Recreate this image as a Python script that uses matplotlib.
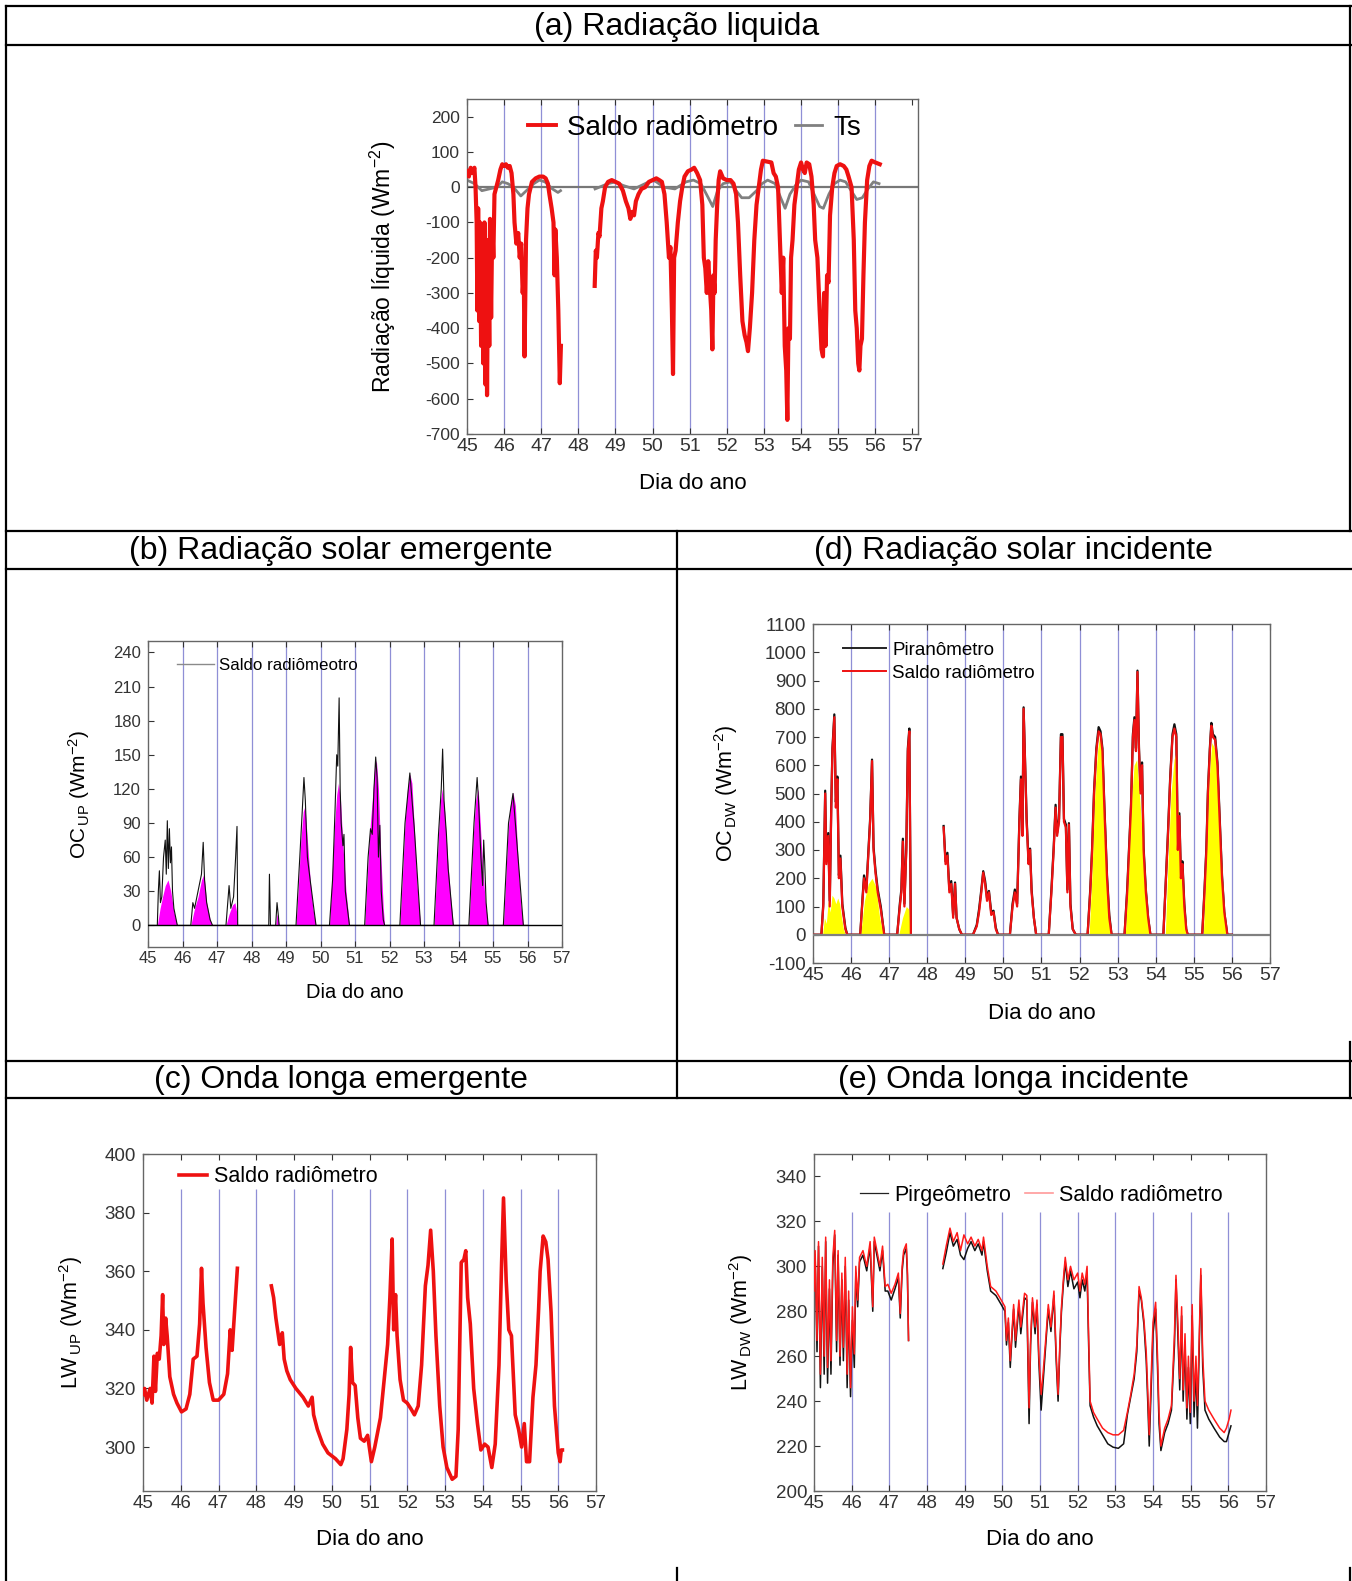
import numpy as np
import matplotlib
matplotlib.use("Agg")
import matplotlib.pyplot as plt
from matplotlib.lines import Line2D

plt.rcParams['font.family'] = ['Liberation Sans', 'DejaVu Sans']
plt.rcParams['mathtext.fontset'] = 'custom'
plt.rcParams['mathtext.rm'] = 'Liberation Sans'
plt.rcParams['mathtext.it'] = 'Liberation Sans'
plt.rcParams['axes.unicode_minus'] = False
nan = np.nan

# (a) Radiação liquida
a_days = [45.00, 45.05, 45.10, 45.15, 45.20, 45.23, 45.26, 45.28, 45.30, 45.33, 45.35, 45.38, 45.41, 45.44,
          45.47, 45.50, 45.52, 45.54, 45.57, 45.60, 45.62, 45.65, 45.68, 45.71, 45.74, 45.79, 45.84, 45.90,
          45.95, 46.00, 46.05, 46.10, 46.15, 46.20, 46.25, 46.28, 46.33, 46.38, 46.42, 46.46, 46.50, 46.53,
          46.55, 46.59, 46.63, 46.67, 46.75, 46.85, 46.95, 47.05, 47.12, 47.18, 47.22, 47.28, 47.33, 47.36,
          47.38, 47.42, 47.46, 47.50, 47.53, 47.54,
          48.44, 48.47, 48.50, 48.54, 48.57, 48.62, 48.66, 48.72, 48.80, 48.90, 49.00, 49.10, 49.20, 49.28,
          49.35, 49.40, 49.45, 49.50, 49.55, 49.62, 49.70, 49.80, 49.90, 50.00, 50.10, 50.18, 50.25, 50.32,
          50.38, 50.44, 50.48, 50.52, 50.55, 50.58, 50.62, 50.68, 50.74, 50.80, 50.86, 50.95, 51.05, 51.12,
          51.20, 51.28, 51.34, 51.38, 51.42, 51.46, 51.50, 51.54, 51.58, 51.61, 51.64, 51.67, 51.70, 51.74,
          51.78, 51.82, 51.90, 52.00, 52.10, 52.18, 52.25, 52.30, 52.36, 52.42, 52.48, 52.53, 52.57, 52.62,
          52.68, 52.74, 52.80, 52.86, 52.92, 52.97, 53.10, 53.20, 53.26, 53.32, 53.38, 53.43, 53.48, 53.52,
          53.56, 53.60, 53.63, 53.66, 53.70, 53.73, 53.77, 53.82, 53.88, 53.94, 54.00, 54.05, 54.10, 54.15,
          54.22, 54.28, 54.34, 54.38, 54.44, 54.50, 54.55, 54.59, 54.62, 54.66, 54.70, 54.74, 54.78, 54.84,
          54.90, 54.96, 55.05, 55.15, 55.22, 55.28, 55.36, 55.42, 55.46, 55.50, 55.54, 55.57, 55.60, 55.64,
          55.68, 55.72, 55.78, 55.84, 55.90, 56.00, 56.12]
a_saldo = [45, 30, 55, 40, 55, 0, -100, -350, -60, -380, -100, -450, -150, -500,
           -100, -560, -200, -590, -150, -450, -90, -370, -100, -200, -20, 0, 20, 50,
           65, 60, 65, 55, 60, 40, -20, -100, -160, -130, -200, -160, -300, -250,
           -480, -150, -60, -20, 15, 25, 30, 30, 25, 10, -20, -60, -100, -250,
           -120, -200, -350, -556, -450, nan,
           -280, -180, -200, -130, -140, -60, -40, 0, 15, 20, 15, 10, -10, -40,
           -60, -90, -70, -80, -40, -20, -5, 0, 15, 20, 25, 20, 15, -20,
           -100, -200, -170, -350, -530, -200, -180, -100, -40, 0, 30, 45, 50, 55,
           40, 20, -50, -200, -230, -300, -210, -280, -350, -460, -250, -300, -150, -50,
           20, 45, 25, 20, 20, 10, -20, -100, -250, -380, -420, -440, -465, -400,
           -300, -150, -50, 0, 50, 75, 72, 70, 40, 30, 0, -150, -300, -200,
           -450, -520, -660, -400, -430, -200, -150, -50, 0, 50, 70, 50, 40, 70,
           65, 30, -50, -150, -200, -350, -460, -480, -300, -450, -250, -270, -80, 0,
           40, 60, 65, 60, 50, 30, 0, -150, -350, -400, -500, -520, -450, -430,
           -250, -100, 20, 60, 75, 70, 65]
a_ts_days = [45.00, 45.20, 45.40, 45.60, 45.80, 45.95, 46.10, 46.25, 46.45, 46.60, 46.80, 46.95, 47.10,
             47.30, 47.45, 47.52, 47.53,
             48.45, 48.80, 49.00, 49.20, 49.50, 49.80, 50.00, 50.10, 50.30, 50.60, 50.90, 51.10, 51.30,
             51.50, 51.62, 51.75, 51.90, 52.10, 52.25, 52.40, 52.60, 52.80, 52.95, 53.10, 53.30, 53.45,
             53.57, 53.70, 53.85, 54.00, 54.20, 54.35, 54.50, 54.60, 54.75, 54.90, 55.05, 55.20, 55.35,
             55.50, 55.65, 55.80, 55.95, 56.10]
a_ts = [20, 10, -10, -5, 0, 15, 10, 0, -25, -10, 10, 20, 15,
        -5, -15, -10, nan,
        -5, 10, 15, 5, -5, 10, 20, 15, 0, -5, 15, 20, 10,
        -30, -55, -10, 10, 15, -10, -30, -30, -10, 10, 20, 10, -30,
        -60, -20, 5, 20, 15, -20, -55, -60, -20, 10, 20, 15, -10,
        -35, -30, -5, 15, 10]

# (b) Radiação solar emergente
b_fill_days = [45.00, 45.27, 45.35, 45.42, 45.50, 45.58, 45.66, 45.75, 45.85,
               46.24, 46.35, 46.45, 46.55, 46.62, 46.70, 46.80, 46.87,
               47.26, 47.35, 47.45, 47.52, 47.58, 47.60,
               48.70, 48.74, 48.78, 48.80,
               49.29, 49.36, 49.43, 49.50, 49.55, 49.62, 49.70, 49.78, 49.87,
               50.26, 50.33, 50.40, 50.47, 50.52, 50.58, 50.65, 50.74, 50.84,
               51.28, 51.35, 51.42, 51.50, 51.57, 51.62, 51.68, 51.75, 51.82, 51.86,
               52.30, 52.37, 52.45, 52.52, 52.59, 52.65, 52.72, 52.80, 52.90,
               53.29, 53.35, 53.42, 53.48, 53.53, 53.60, 53.68, 53.77, 53.85,
               54.30, 54.36, 54.43, 54.50, 54.57, 54.63, 54.70, 54.78, 54.86,
               55.30, 55.36, 55.43, 55.50, 55.58, 55.65, 55.72, 55.80, 55.88, 56.00]
b_fill = [0, 0, 15, 25, 35, 40, 30, 12, 0,
          0, 15, 25, 40, 45, 20, 5, 0,
          0, 10, 18, 20, 10, 0,
          0, 10, 5, 0,
          0, 35, 75, 100, 105, 75, 40, 15, 0,
          0, 40, 85, 115, 125, 110, 70, 30, 0,
          0, 40, 80, 110, 140, 145, 120, 60, 15, 0,
          0, 40, 90, 120, 133, 125, 85, 35, 0,
          0, 35, 80, 110, 120, 100, 60, 25, 0,
          0, 35, 80, 110, 120, 90, 50, 20, 0,
          0, 35, 80, 105, 117, 105, 60, 20, 0, 0]
b_line_days = [45.00, 45.27, 45.30, 45.33, 45.36, 45.40, 45.45, 45.50, 45.53, 45.56, 45.59, 45.62, 45.65,
               45.68, 45.71, 45.75, 45.85,
               46.24, 46.30, 46.35, 46.45, 46.55, 46.60, 46.64, 46.70, 46.80, 46.87,
               47.26, 47.35, 47.40, 47.48, 47.54, 47.58, 47.60,
               48.50, 48.52, 48.55, 48.70, 48.74, 48.78, 48.80,
               49.29, 49.40, 49.47, 49.52, 49.56, 49.62, 49.70, 49.87,
               50.26, 50.35, 50.42, 50.47, 50.50, 50.54, 50.57, 50.60, 50.65, 50.68, 50.72, 50.84,
               51.28, 51.38, 51.45, 51.50, 51.55, 51.60, 51.64, 51.68, 51.72, 51.76, 51.82, 51.86,
               52.30, 52.45, 52.59, 52.72, 52.90,
               53.29, 53.42, 53.50, 53.54, 53.58, 53.65, 53.70, 53.85,
               54.30, 54.45, 54.54, 54.58, 54.65, 54.70, 54.73, 54.76, 54.80, 54.86,
               55.30, 55.45, 55.58, 55.70, 55.88, 56.00]
b_line = [0, 0, 30, 48, 20, 25, 60, 75, 45, 92, 50, 85, 55,
          69, 30, 15, 0,
          0, 20, 15, 30, 45, 73, 40, 20, 5, 0,
          0, 35, 15, 25, 60, 87, 0,
          0, 45, 0, 0, 20, 8, 0,
          0, 60, 100, 130, 110, 60, 40, 0,
          0, 40, 100, 150, 140, 200, 120, 90, 70, 80, 30, 0,
          0, 60, 85, 80, 120, 148, 130, 60, 88, 30, 5, 0,
          0, 90, 134, 85, 0,
          0, 80, 120, 155, 110, 80, 50, 0,
          0, 90, 130, 110, 60, 35, 75, 55, 20, 0,
          0, 90, 116, 70, 0, 0]

# (d) Radiação solar incidente
d_days = [45.00, 45.22, 45.27, 45.32, 45.35, 45.40, 45.44, 45.48, 45.51, 45.56, 45.60, 45.64, 45.68,
          45.72, 45.77, 45.85, 45.90,
          46.24, 46.30, 46.34, 46.40, 46.46, 46.50, 46.55, 46.59, 46.64, 46.70, 46.78, 46.87,
          47.21, 47.28, 47.32, 47.36, 47.40, 47.45, 47.49, 47.53, 47.57, 47.58,
          48.43, 48.48, 48.53, 48.58, 48.63, 48.68, 48.73, 48.77, 48.84, 48.91,
          49.20, 49.30, 49.36, 49.42, 49.47, 49.52, 49.57, 49.62, 49.68, 49.74, 49.80, 49.86,
          50.17, 50.24, 50.30, 50.36, 50.42, 50.46, 50.50, 50.53, 50.57, 50.61, 50.66, 50.70, 50.74,
          50.80, 50.86,
          51.19, 51.26, 51.32, 51.37, 51.41, 51.46, 51.51, 51.55, 51.59, 51.64, 51.68, 51.72, 51.76,
          51.82, 51.90,
          52.21, 52.28, 52.33, 52.38, 52.44, 52.50, 52.55, 52.60, 52.65, 52.72, 52.78, 52.84,
          53.18, 53.25, 53.30, 53.35, 53.40, 53.44, 53.48, 53.52, 53.56, 53.60, 53.64, 53.68, 53.74,
          53.80, 53.86,
          54.20, 54.27, 54.32, 54.38, 54.44, 54.49, 54.54, 54.58, 54.62, 54.66, 54.70, 54.75, 54.80,
          54.84,
          55.22, 55.28, 55.33, 55.37, 55.42, 55.46, 55.50, 55.56, 55.62, 55.68, 55.74, 55.80, 55.88,
          56.00]
d_saldo = [0, 0, 100, 500, 250, 350, 100, 450, 650, 770, 450, 550, 200,
           270, 100, 20, 0,
           0, 120, 200, 150, 300, 400, 615, 300, 220, 150, 90, 0,
           0, 100, 150, 330, 100, 300, 650, 720, 0, nan,
           380, 250, 280, 150, 180, 60, 180, 60, 20, 0,
           0, 30, 80, 150, 220, 180, 120, 150, 70, 80, 20, 0,
           0, 100, 150, 100, 400, 550, 350, 800, 600, 400, 250, 300, 150,
           60, 0,
           0, 150, 300, 450, 350, 400, 700, 700, 400, 380, 150, 390, 100,
           20, 0,
           0, 150, 300, 500, 650, 720, 710, 650, 450, 200, 60, 0,
           0, 150, 300, 450, 700, 760, 650, 930, 650, 500, 600, 300, 150,
           60, 0,
           0, 200, 350, 550, 700, 730, 700, 300, 420, 200, 250, 100, 20,
           0,
           0, 150, 300, 500, 650, 740, 700, 690, 600, 400, 200, 80, 0,
           0]
d_piran = [0, 0, 110, 510, 260, 360, 120, 460, 660, 780, 470, 560, 210,
           280, 110, 25, 0,
           0, 130, 210, 160, 310, 410, 620, 310, 230, 160, 100, 0,
           0, 110, 160, 340, 110, 310, 660, 730, 0, nan,
           385, 260, 290, 160, 190, 70, 185, 60, 20, 0,
           0, 35, 90, 160, 225, 190, 130, 155, 80, 85, 25, 0,
           0, 110, 160, 110, 410, 560, 360, 805, 610, 410, 260, 305, 160,
           60, 0,
           0, 160, 310, 460, 360, 410, 710, 710, 410, 390, 160, 395, 110,
           20, 0,
           0, 160, 310, 510, 660, 735, 720, 660, 460, 210, 70, 0,
           0, 160, 310, 460, 710, 770, 660, 935, 660, 510, 610, 310, 160,
           60, 0,
           0, 210, 360, 560, 710, 745, 710, 310, 430, 210, 260, 110, 20,
           0,
           0, 160, 310, 510, 660, 750, 710, 700, 610, 410, 210, 80, 0,
           0]
d_fill_days = [45.00, 45.25, 45.30, 45.35, 45.40, 45.45, 45.50, 45.55, 45.60, 45.65, 45.70, 45.75, 45.80, 45.85,
               46.25, 46.35, 46.45, 46.55, 46.65, 46.75, 46.85,
               47.25, 47.35, 47.45, 47.52, 47.55,
               52.25, 52.32, 52.40, 52.47, 52.52, 52.58, 52.64, 52.70, 52.76, 52.82,
               53.20, 53.28, 53.35, 53.43, 53.50, 53.57, 53.65, 53.72, 53.80, 53.85,
               54.25, 54.32, 54.40, 54.48, 54.52, 54.58, 54.65, 54.72, 54.80, 54.83,
               55.25, 55.32, 55.40, 55.47, 55.55, 55.62, 55.70, 55.78, 55.86, 56.00]
d_fill = [0, 0, 60, 40, 120, 80, 140, 130, 110, 130, 110, 60, 20, 0,
          0, 120, 180, 200, 170, 60, 0,
          0, 60, 100, 90, 0,
          0, 200, 500, 650, 700, 660, 450, 250, 80, 0,
          0, 200, 450, 600, 620, 500, 350, 200, 60, 0,
          0, 250, 500, 620, 640, 450, 250, 120, 30, 0,
          0, 250, 550, 680, 660, 550, 320, 120, 0, 0]

# (c) Onda longa emergente
c_days = [45.00, 45.04, 45.10, 45.19, 45.24, 45.29, 45.33, 45.38, 45.43, 45.48, 45.52, 45.55, 45.60,
          45.64, 45.71, 45.81, 45.90, 46.02, 46.14, 46.24, 46.33, 46.43, 46.50, 46.55, 46.59, 46.67,
          46.76, 46.86, 47.00, 47.14, 47.24, 47.31, 47.36, 47.43, 47.50, 47.51,
          48.40, 48.46, 48.52, 48.62, 48.69, 48.74, 48.81, 48.90, 49.05, 49.24, 49.38, 49.48, 49.52,
          49.62, 49.76, 49.90, 50.10, 50.24, 50.30, 50.40, 50.46, 50.50, 50.55, 50.62, 50.69, 50.76,
          50.86, 50.95, 51.05, 51.14, 51.29, 51.38, 51.48, 51.54, 51.60, 51.64, 51.69, 51.73, 51.81,
          51.90, 52.00, 52.10, 52.19, 52.29, 52.38, 52.48, 52.55, 52.62, 52.69, 52.76, 52.86, 52.95,
          53.05, 53.19, 53.29, 53.35, 53.43, 53.50, 53.55, 53.60, 53.67, 53.76, 53.86, 53.95, 54.05,
          54.14, 54.24, 54.33, 54.43, 54.50, 54.55, 54.62, 54.69, 54.76, 54.86, 54.95, 55.03, 55.10,
          55.16, 55.24, 55.33, 55.41, 55.48, 55.52, 55.60, 55.67, 55.73, 55.81, 55.90, 56.00, 56.05,
          56.08, 56.11]
c_saldo = [318, 320, 316, 320, 315, 331, 319, 332, 330, 338, 352, 335, 344,
           338, 324, 318, 315, 312, 313, 318, 330, 331, 342, 361, 349, 334,
           322, 316, 316, 318, 325, 340, 333, 347, 361, nan,
           355, 351, 344, 335, 339, 330, 326, 323, 320, 317, 314, 317, 311,
           306, 301, 298, 296, 294, 296, 306, 318, 334, 322, 321, 310, 303,
           302, 304, 295, 300, 310, 322, 335, 351, 371, 340, 352, 338, 323,
           316, 315, 313, 311, 314, 328, 355, 362, 374, 360, 338, 314, 300,
           293, 289, 290, 306, 363, 364, 367, 351, 342, 320, 308, 299, 301,
           300, 293, 301, 328, 363, 385, 357, 340, 338, 311, 306, 300, 308,
           295, 295, 317, 328, 347, 360, 372, 370, 364, 346, 314, 298, 295,
           299, 299]

# (e) Onda longa incidente
e_days = [45.00, 45.03, 45.08, 45.12, 45.17, 45.22, 45.27, 45.31, 45.36, 45.41, 45.45, 45.50, 45.55,
          45.60, 45.64, 45.69, 45.74, 45.78, 45.83, 45.88, 45.92, 45.97, 46.02, 46.07, 46.11, 46.16,
          46.21, 46.30, 46.40, 46.49, 46.56, 46.60, 46.68, 46.75, 46.82, 46.89, 46.96, 47.05, 47.15,
          47.24, 47.29, 47.34, 47.38, 47.45, 47.48, 47.51, 47.52,
          48.42, 48.51, 48.61, 48.70, 48.80, 48.89, 48.98, 49.08, 49.17, 49.27, 49.36, 49.46, 49.50,
          49.60, 49.69, 49.83, 49.97, 50.07, 50.11, 50.16, 50.21, 50.26, 50.30, 50.35, 50.44, 50.49,
          50.59, 50.65, 50.71, 50.75, 50.80, 50.87, 50.92, 50.97, 51.03, 51.08, 51.15, 51.22, 51.29,
          51.37, 51.43, 51.48, 51.53, 51.57, 51.62, 51.67, 51.74, 51.81, 51.90, 52.00, 52.06, 52.12,
          52.19, 52.25, 52.29, 52.33, 52.42, 52.52, 52.66, 52.80, 52.94, 53.08, 53.22, 53.32, 53.41,
          53.50, 53.57, 53.63, 53.69, 53.76, 53.82, 53.86, 53.90, 53.95, 54.00, 54.07, 54.12, 54.16,
          54.21, 54.31, 54.40, 54.49, 54.57, 54.61, 54.66, 54.71, 54.76, 54.80, 54.85, 54.90, 54.94,
          54.99, 55.04, 55.09, 55.14, 55.18, 55.23, 55.27, 55.32, 55.38, 55.48, 55.62, 55.77, 55.89,
          55.95, 56.02, 56.07]
e_saldo = [289, 307, 267, 311, 252, 304, 260, 313, 255, 294, 258, 304, 316,
           267, 307, 260, 297, 264, 304, 252, 289, 246, 282, 261, 300, 285,
           304, 307, 300, 311, 282, 313, 306, 300, 309, 291, 292, 288, 292,
           297, 279, 300, 307, 310, 298, 267, nan,
           301, 309, 317, 311, 315, 307, 314, 310, 313, 309, 312, 307, 313,
           300, 291, 289, 285, 282, 267, 277, 258, 272, 283, 267, 285, 273,
           288, 287, 237, 267, 286, 273, 285, 260, 243, 252, 267, 283, 273,
           289, 261, 243, 267, 282, 294, 304, 294, 300, 294, 297, 289, 297,
           292, 300, 270, 240, 235, 232, 228, 226, 225, 225, 227, 235, 243,
           252, 265, 291, 286, 276, 262, 245, 225, 250, 275, 284, 260, 235,
           220, 228, 232, 238, 270, 296, 275, 250, 282, 245, 270, 237, 260,
           235, 283, 240, 260, 238, 270, 299, 260, 240, 236, 232, 228, 226,
           228, 232, 236]
e_pirg = [286, 305, 262, 309, 246, 300, 252, 311, 248, 290, 252, 300, 314,
          262, 305, 256, 294, 258, 300, 246, 285, 242, 276, 255, 297, 282,
          302, 305, 298, 309, 280, 311, 304, 298, 307, 289, 289, 285, 290,
          295, 277, 298, 305, 308, 296, 267, nan,
          299, 306, 315, 309, 312, 305, 303, 308, 311, 307, 310, 305, 311,
          298, 289, 287, 283, 280, 265, 275, 255, 270, 281, 264, 283, 270,
          286, 285, 230, 265, 284, 270, 283, 257, 236, 248, 265, 281, 271,
          287, 258, 240, 265, 280, 292, 302, 291, 298, 290, 293, 286, 294,
          289, 297, 266, 238, 233, 229, 225, 221, 219.5, 219, 221, 234, 242,
          250, 262, 289, 285, 274, 258, 240, 220, 245, 270, 281, 255, 230,
          218, 226, 230, 236, 265, 294, 270, 245, 278, 240, 265, 232, 255,
          230, 278, 233, 255, 228, 265, 296, 255, 236, 232, 228, 224, 222,
          222, 226, 229]

grid_days = [46, 47, 48, 49, 50, 51, 52, 53, 54, 55, 56]
day_ticks = list(range(45, 58))

W, H = 1352, 1581
fig = plt.figure(figsize=(W / 100, H / 100), dpi=100)


def place(l, r, t, b):
    return fig.add_axes([l / W, 1 - b / H, (r - l) / W, (b - t) / H])


def hline(y, x0, x1):
    fig.add_artist(Line2D([x0 / W, x1 / W], [1 - y / H, 1 - y / H], color='black', lw=1.6,
                          transform=fig.transFigure))


def vline(x, y0, y1):
    fig.add_artist(Line2D([x / W, x / W], [1 - y0 / H, 1 - y1 / H], color='black', lw=1.6,
                          transform=fig.transFigure))


def style(ax, xfs, yfs, gtop, ylab, ylfs, ylx, xlfs, xly):
    ax.vlines(grid_days, ax.get_ylim()[0], gtop, color='#8f8fd6', lw=0.9, zorder=0)
    ax.set_xticks(day_ticks)
    ax.tick_params(axis='x', direction='in', length=4, labelsize=xfs, pad=3, top=True, colors='#333333')
    ax.tick_params(axis='y', direction='in', length=4, labelsize=yfs, pad=5, colors='#333333')
    for s in ax.spines.values():
        s.set_color('#666666')
        s.set_linewidth(1.0)
    ax.set_ylabel(ylab, fontsize=ylfs, va='center')
    ax.yaxis.set_label_coords(ylx, 0.5)
    ax.set_xlabel('Dia do ano', fontsize=xlfs, va='center')
    ax.xaxis.set_label_coords(0.5, xly)


# table lines
hline(6, 6, 1351)
hline(45, 6, 1351)
hline(531, 6, 1351)
hline(569, 6, 1351)
hline(1061, 6, 1351)
hline(1098, 6, 1351)
vline(6, 6, 1581)
vline(1350, 6, 531)
vline(1350, 1042, 1098)
vline(1350, 1568, 1581)
vline(676.5, 531, 1098)
vline(676.5, 1568, 1581)

hfs = 23
fig.text(677 / W, 1 - 27 / H, '(a) Radiação liquida', ha='center', va='center', fontsize=hfs)
fig.text(341 / W, 1 - 551 / H, '(b) Radiação solar emergente', ha='center', va='center', fontsize=hfs)
fig.text(1013 / W, 1 - 551 / H, '(d) Radiação solar incidente', ha='center', va='center', fontsize=hfs)
fig.text(341 / W, 1 - 1080 / H, '(c) Onda longa emergente', ha='center', va='center', fontsize=hfs)
fig.text(1013 / W, 1 - 1080 / H, '(e) Onda longa incidente', ha='center', va='center', fontsize=hfs)

# (a)
ax = place(467, 918, 99, 434)
ax.set_xlim(45, 57.15)
ax.set_ylim(-700, 250)
ax.axhline(0, color='#777777', lw=1.6, zorder=1)
ax.plot(a_ts_days, a_ts, color='#808080', lw=2.0, zorder=2)
ax.plot(a_days, a_saldo, color='#ee1111', lw=3.0, zorder=3)
ax.set_yticks(range(-700, 201, 100))
style(ax, 14, 12.5, 245, 'Radiação líquida (Wm$^{-2}$)', 16.5, -0.186, 16, -0.149)
ax.legend([Line2D([], [], color='#ee1111', lw=2.8), Line2D([], [], color='#808080', lw=2.0)],
          ['Saldo radiômetro', 'Ts'], loc='upper center', bbox_to_anchor=(0.505, 0.985), ncol=2,
          frameon=False, fontsize=20, handlelength=1.0, handletextpad=0.4, columnspacing=0.6,
          borderaxespad=0)

# (b)
ax = place(148, 562, 641, 947)
ax.set_xlim(45, 57)
ax.set_ylim(-19, 250)
ax.fill_between(b_fill_days, 0, b_fill, color='#ff00ff', lw=0, zorder=2)
ax.plot(b_line_days, b_line, color='#111111', lw=0.8, zorder=3)
ax.axhline(0, color='black', lw=1.0, zorder=4)
ax.set_yticks(range(0, 241, 30))
style(ax, 12, 12, 250, 'OC$_{\\,\\mathrm{UP}}$ (Wm$^{-2}$)', 15, -0.167, 14.5, -0.150)
ax.legend([Line2D([], [], color='#8a8a8a', lw=1.0)], ['Saldo radiômeotro'], loc='center left',
          bbox_to_anchor=(0.053, 0.92), frameon=False, fontsize=12.2, handlelength=2.2,
          handletextpad=0.3, borderaxespad=0)

# (d)
ax = place(813, 1270, 624, 963)
ax.set_xlim(45, 57)
ax.set_ylim(-100, 1100)
ax.fill_between(d_fill_days, 0, d_fill, color='#ffff00', lw=0, zorder=3)
ax.plot(d_days, d_piran, color='#111111', lw=1.6, zorder=2)
ax.plot(d_days, d_saldo, color='#ee1111', lw=1.6, zorder=4)
ax.axhline(0, color='#808080', lw=1.6, zorder=5)
ax.set_yticks(range(-100, 1101, 100))
style(ax, 14, 13.5, 1100, 'OC$_{\\,\\mathrm{DW}}$ (Wm$^{-2}$)', 15.5, -0.19, 16, -0.1475)
ax.legend([Line2D([], [], color='#222222', lw=1.4), Line2D([], [], color='#ee1111', lw=1.4)],
          ['Piranômetro', 'Saldo radiômetro'], loc='center left', bbox_to_anchor=(0.05, 0.889),
          frameon=False, fontsize=13.5, handlelength=2.3, handletextpad=0.3, labelspacing=0.3,
          borderaxespad=0)

# (c)
ax = place(143, 596, 1154, 1491)
ax.set_xlim(45, 57)
ax.set_ylim(285, 400)
ax.plot(c_days, c_saldo, color='#ee1111', lw=2.6, zorder=3)
ax.set_yticks(range(300, 401, 20))
style(ax, 13.5, 13.5, 388, 'LW$_{\\,\\mathrm{UP}}$ (Wm$^{-2}$)', 15.5, -0.159, 16, -0.145)
ax.legend([Line2D([], [], color='#ee1111', lw=2.6)], ['Saldo radiômetro'], loc='center left',
          bbox_to_anchor=(0.061, 0.932), frameon=False, fontsize=15.5, handlelength=1.3,
          handletextpad=0.3, borderaxespad=0)

# (e)
ax = place(814, 1266, 1154, 1491)
ax.set_xlim(45, 57)
ax.set_ylim(200, 350)
ax.plot(e_days, e_pirg, color='#111111', lw=1.1, zorder=2)
ax.plot(e_days, e_saldo, color='#ff1a1a', lw=1.1, zorder=3)
ax.set_yticks(range(200, 341, 20))
style(ax, 13.5, 13.5, 324, 'LW$_{\\,\\mathrm{DW}}$ (Wm$^{-2}$)', 15.5, -0.161, 16, -0.145)
ax.legend([Line2D([], [], color='#222222', lw=0.9), Line2D([], [], color='#ff9a9a', lw=1.2)],
          ['Pirgeômetro', 'Saldo radiômetro'], loc='center left', bbox_to_anchor=(0.082, 0.878),
          ncol=2, frameon=False, fontsize=15.5, handlelength=1.3, handletextpad=0.3,
          columnspacing=0.65, borderaxespad=0)

fig.savefig('out.png', dpi=100)
